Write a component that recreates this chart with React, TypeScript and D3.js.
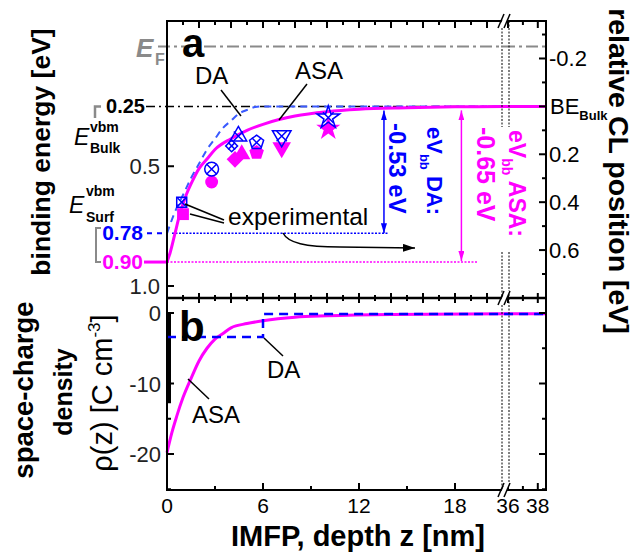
import React from "react";
import * as d3 from "d3";

const FONT = "'Liberation Sans', Arial, Helvetica, sans-serif";
const MAGENTA = "#ff00ff";
const BLUE = "#0000ff";
const DA_BLUE = "#3a5aff";
const GRAY = "#8a8a8a";

// panel a: depth z [nm] vs binding energy of the VBM [eV]
const asaZ = [0, 0.2, 0.5, 0.8, 1.2, 1.6, 2, 2.5, 3, 4, 5, 6, 7, 8, 10, 12, 15, 18, 21, 36, 38.55];
const asaBE = [0.9, 0.86, 0.78, 0.7, 0.62, 0.56, 0.51, 0.47, 0.43, 0.385, 0.35, 0.325, 0.305, 0.29, 0.272, 0.262, 0.256, 0.252, 0.25, 0.25, 0.25];
const daZ = [0, 0.5, 1, 1.5, 2, 2.5, 3, 3.5, 4, 4.5, 5, 5.5, 6, 21, 36, 38.55];
const daBE = [0.78, 0.69, 0.62, 0.55, 0.49, 0.43, 0.385, 0.34, 0.31, 0.28, 0.265, 0.253, 0.25, 0.25, 0.25, 0.25];

// experimental points
const expShapes = ["square", "circle", "diamond", "triangle", "pentagon", "triangleDown", "star"];
const expBlueZ = [0.92, 2.79, 4.04, 4.46, 5.6, 7.17, 10.08];
const expBlueBE = [0.65, 0.512, 0.415, 0.374, 0.401, 0.374, 0.297];
const expPinkZ = [1.0, 2.79, 4.25, 4.67, 5.6, 7.17, 10.08];
const expPinkBE = [0.7, 0.566, 0.471, 0.45, 0.443, 0.422, 0.343];

// levels [eV]
const levelEF = 0;
const levelBulk = 0.25;
const levelDA = 0.78;
const levelASA = 0.9;

// panel b: space-charge density [C cm^-3]
const rhoAsaZ = [0, 0.3, 0.6, 1, 1.5, 2, 2.5, 3, 3.5, 4, 5, 6, 8, 10, 14, 21, 36, 38.55];
const rhoAsa = [-19.8, -17.0, -14.7, -12.0, -9.3, -6.8, -5.0, -3.7, -2.9, -2.1, -1.5, -1.1, -0.6, -0.4, -0.2, -0.1, -0.1, -0.1];
const rhoDaZ = [0, 6, 38.55];
const rhoDa = [-3.4, -0.15, -0.15];

// ticks
const beTicks = [0.5, 1.0];
const relTicks = [-0.3, -0.2, -0.1, 0, 0.1, 0.2, 0.3, 0.4, 0.5, 0.6, 0.7];
const relLabels = ["", "-0.2", "", "", "", "0.2", "", "0.4", "", "0.6", ""];
const rhoTicks = [0, -5, -10, -15, -20, -25];
const rhoLabels = ["0", "", "-10", "", "-20", ""];
const zTicksA = d3.range(0, 22);
const zTicksB = [36, 37, 38];
const zLabels = [0, 6, 12, 18, 36, 38];

const pentagon = {
  draw(ctx: any, size: number) {
    const r = Math.sqrt(size / 2.378);
    for (let i = 0; i < 5; i++) {
      const a = -Math.PI / 2 + (i * 2 * Math.PI) / 5;
      if (i === 0) ctx.moveTo(r * Math.cos(a), r * Math.sin(a));
      else ctx.lineTo(r * Math.cos(a), r * Math.sin(a));
    }
    ctx.closePath();
  },
};

const symType = (s: string): any =>
  s === "circle" ? d3.symbolCircle
    : s === "square" || s === "diamond" ? d3.symbolSquare
    : s === "triangle" || s === "triangleDown" ? d3.symbolTriangle
    : s === "pentagon" ? pentagon
    : d3.symbolStar;
const symRot = (s: string) => (s === "diamond" ? 45 : s === "triangleDown" ? 180 : 0);
const pinkSize: Record<string, number> = { square: 140, circle: 130, diamond: 140, triangle: 130, pentagon: 140, triangleDown: 150, star: 180 };
const blueSize: Record<string, number> = { square: 100, circle: 150, diamond: 70, triangle: 120, pentagon: 130, triangleDown: 150, star: 160 };

export default function App() {
  const xA = d3.scaleLinear().domain([0, 21]).range([167, 503]);
  const xB = d3.scaleLinear().domain([36, 38.55]).range([508, 546]);
  const xs = (z: number) => (z <= 21 ? xA(z) : xB(z));
  const yBE = d3.scaleLinear().domain([0, 1]).range([46.5, 286]);
  const yRho = d3.scaleLinear().domain([0, -20]).range([313, 454]);

  const X0 = xA(0);
  const X1 = xB(38.55);
  const YT = 21;
  const YM = 298;
  const YB = 490;

  const lineBE = d3
    .line<number>()
    .x((_, i) => xs(asaZ[i]))
    .y((d) => yBE(d))
    .curve(d3.curveMonotoneX);
  const lineDA = d3
    .line<number>()
    .x((_, i) => xs(daZ[i]))
    .y((d) => yBE(d))
    .curve(d3.curveMonotoneX);
  const lineRhoAsa = d3
    .line<number>()
    .x((_, i) => xs(rhoAsaZ[i]))
    .y((d) => yRho(d))
    .curve(d3.curveMonotoneX);
  const lineRhoDa = d3
    .line<number>()
    .x((_, i) => xs(rhoDaZ[i]))
    .y((d) => yRho(d))
    .curve(d3.curveStepAfter);

  const breakMark = (y: number) => (
    <g key={"bm" + y}>
      <polygon points={`${499},${y + 7} ${505},${y - 7} ${510},${y - 7} ${504},${y + 7}`} fill="#fff" />
      <line x1={498} y1={y + 7} x2={504} y2={y - 7} stroke="#000" strokeWidth={1.5} />
      <line x1={504} y1={y + 7} x2={510} y2={y - 7} stroke="#000" strokeWidth={1.5} />
    </g>
  );

  const zAll = [...zTicksA, ...zTicksB];

  return (
    <svg width={640} height={556} style={{ position: "absolute", left: 0, top: 0, background: "#fff" }} fontFamily={FONT}>
      <defs>
        <marker id="ahB" viewBox="0 0 10 6" refX={10} refY={3} markerWidth={10} markerHeight={6} markerUnits="userSpaceOnUse" orient="auto-start-reverse">
          <path d="M0,0L10,3L0,6z" fill={BLUE} />
        </marker>
        <marker id="ahM" viewBox="0 0 10 6" refX={10} refY={3} markerWidth={10} markerHeight={6} markerUnits="userSpaceOnUse" orient="auto-start-reverse">
          <path d="M0,0L10,3L0,6z" fill={MAGENTA} />
        </marker>
        <marker id="ahK" viewBox="0 0 12 8" refX={12} refY={4} markerWidth={12} markerHeight={8} markerUnits="userSpaceOnUse" orient="auto">
          <path d="M0,0L12,4L0,8z" fill="#000" />
        </marker>
      </defs>

      {/* ---------- panel a ---------- */}
      {/* E_F and bulk reference lines */}
      <line x1={158} x2={X1} y1={yBE(levelEF)} y2={yBE(levelEF)} stroke={GRAY} strokeWidth={2} strokeDasharray="12,4,3,4" />
      <line x1={146} x2={X1} y1={yBE(levelBulk)} y2={yBE(levelBulk)} stroke="#000" strokeWidth={1.5} strokeDasharray="9,4,2,4" />
      {/* surface levels */}
      <line x1={147} x2={X0} y1={yBE(levelDA)} y2={yBE(levelDA)} stroke={BLUE} strokeWidth={2} strokeDasharray="5,5" />
      <line x1={X0 + 5} x2={xA(13.8)} y1={yBE(levelDA)} y2={yBE(levelDA)} stroke={BLUE} strokeWidth={1.5} strokeDasharray="2,1.5" />
      <line x1={144} x2={X0} y1={yBE(levelASA)} y2={yBE(levelASA)} stroke={MAGENTA} strokeWidth={3} />
      <line x1={X0} x2={xA(19.4)} y1={yBE(levelASA)} y2={yBE(levelASA)} stroke={MAGENTA} strokeWidth={1.5} strokeDasharray="2,1.5" />

      {/* band-bending arrows */}
      <line x1={xA(13.56)} x2={xA(13.56)} y1={yBE(levelBulk) + 4} y2={yBE(levelDA)} stroke={BLUE} strokeWidth={1.5} markerStart="url(#ahB)" markerEnd="url(#ahB)" />
      <line x1={xA(18.4)} x2={xA(18.4)} y1={yBE(levelBulk) + 4} y2={yBE(levelASA) - 1} stroke={MAGENTA} strokeWidth={1.5} markerStart="url(#ahM)" markerEnd="url(#ahM)" />

      {/* curves */}
      <path d={lineDA(daBE) || ""} fill="none" stroke={DA_BLUE} strokeWidth={2} strokeDasharray="7,5" />
      <path d={lineBE(asaBE) || ""} fill="none" stroke={MAGENTA} strokeWidth={3} />

      {/* experimental markers */}
      {expShapes.map((s, i) => (
        <path
          key={"p" + i}
          transform={`translate(${xs(expPinkZ[i])},${yBE(expPinkBE[i])}) rotate(${symRot(s)})`}
          d={d3.symbol().type(symType(s)).size(pinkSize[s])() || ""}
          fill={MAGENTA}
        />
      ))}
      {expShapes.map((s, i) => {
        const c = 0.42 * Math.sqrt(blueSize[s]);
        return (
          <g key={"b" + i} transform={`translate(${xs(expBlueZ[i])},${yBE(expBlueBE[i])})`}>
            <path transform={`rotate(${symRot(s)})`} d={d3.symbol().type(symType(s)).size(blueSize[s])() || ""} fill="none" stroke={BLUE} strokeWidth={1.5} />
            <path d={`M${-c},${-c}L${c},${c}M${-c},${c}L${c},${-c}`} stroke={BLUE} strokeWidth={1.5} />
          </g>
        );
      })}

      {/* annotations panel a */}
      <text x={182} y={57} fontSize={40} fontWeight="bold">a</text>
      <text x={195} y={84} fontSize={24}>DA</text>
      <line x1={221} y1={90} x2={241} y2={116} stroke="#000" strokeWidth={1.5} />
      <text x={295} y={79} fontSize={24}>ASA</text>
      <line x1={307} y1={84} x2={279} y2={120} stroke="#000" strokeWidth={1.5} />
      <text x={228} y={225} fontSize={24.5}>experimental</text>
      <line x1={224} y1={220} x2={185} y2={204} stroke="#000" strokeWidth={1.5} />
      <line x1={224} y1={223} x2={190} y2={214} stroke="#000" strokeWidth={1.5} />
      <path d="M283,233 C288,243 305,247 340,247 L415,248" fill="none" stroke="#000" strokeWidth={1.5} markerEnd="url(#ahK)" />

      <text transform="translate(389,123) rotate(90)" fontSize={24} fontWeight="bold" fill={BLUE}>-0.53 eV</text>
      <text transform="translate(427,127) rotate(90)" fontSize={22} fontWeight="bold" fill={BLUE}>
        eV<tspan fontSize={13} dy={7}>bb</tspan><tspan dy={-7}> DA:</tspan>
      </text>
      <text transform="translate(477,127) rotate(90)" fontSize={25} fontWeight="bold" fill={MAGENTA}>-0.65 eV</text>
      <text transform="translate(509,130) rotate(90)" fontSize={23} fontWeight="bold" fill={MAGENTA}>
        eV<tspan fontSize={14} dy={7}>bb</tspan><tspan dy={-7}> ASA:</tspan>
      </text>

      {/* left-side level labels */}
      <text x={136} y={57} fontSize={26} fontWeight="bold" fontStyle="italic" fill={GRAY}>E</text>
      <text x={155} y={65} fontSize={16} fontWeight="bold" fill={GRAY}>F</text>
      <text x={145} y={yBE(levelBulk) + 7} fontSize={20} fontWeight="bold" textAnchor="end">0.25</text>
      <text x={143} y={yBE(levelDA) + 7} fontSize={21} fontWeight="bold" textAnchor="end" fill={BLUE}>0.78</text>
      <text x={143} y={yBE(levelASA) + 7} fontSize={21} fontWeight="bold" textAnchor="end" fill={MAGENTA}>0.90</text>
      <path d={`M101,${yBE(levelBulk)} H95 V118`} fill="none" stroke={GRAY} strokeWidth={2.5} />
      <path d={`M101,228 H96 V${yBE(levelASA)} H101`} fill="none" stroke={GRAY} strokeWidth={2} />
      <text x={74} y={145} fontSize={23} fontStyle="italic">E</text>
      <text x={90} y={132} fontSize={14} fontWeight="bold">vbm</text>
      <text x={90} y={153} fontSize={14} fontWeight="bold">Bulk</text>
      <text x={69} y={213} fontSize={23} fontStyle="italic">E</text>
      <text x={86} y={196} fontSize={14} fontWeight="bold">vbm</text>
      <text x={86} y={222} fontSize={14} fontWeight="bold">Surf</text>

      {/* left axis ticks/labels panel a */}
      {beTicks.map((t) => (
        <g key={"be" + t}>
          <line x1={X0} x2={X0 + 7} y1={yBE(t)} y2={yBE(t)} stroke="#000" strokeWidth={2} />
          <text x={160} y={yBE(t) + 8} fontSize={22} textAnchor="end" fill="#222">{t.toFixed(1)}</text>
        </g>
      ))}
      {/* right axis ticks/labels panel a (relative CL position) */}
      {relTicks.map((r, i) => {
        const major = i % 2 === 1;
        const y = yBE(r + levelBulk);
        return (
          <g key={"rel" + i}>
            <line x1={X1 - (major ? 7 : 4)} x2={X1} y1={y} y2={y} stroke="#000" strokeWidth={2} />
            {relLabels[i] && (
              <text x={549} y={y + 8} fontSize={22}>{relLabels[i]}</text>
            )}
          </g>
        );
      })}
      <text x={550} y={yBE(levelBulk) + 8} fontSize={22}>
        BE<tspan fontSize={13} fontWeight="bold" dy={6}>Bulk</tspan>
      </text>

      {/* ---------- panel b ---------- */}
      <line x1={X0 + 2} x2={X0 + 2} y1={yRho(0)} y2={yRho(-12.8)} stroke="#000" strokeWidth={4} />
      <path d={lineRhoAsa(rhoAsa) || ""} fill="none" stroke={MAGENTA} strokeWidth={3} />
      <path d={lineRhoDa(rhoDa) || ""} fill="none" stroke={BLUE} strokeWidth={2.5} strokeDasharray="9,6" />
      <text x={179} y={341} fontSize={42} fontWeight="bold">b</text>
      <text x={267} y={378} fontSize={24}>DA</text>
      <line x1={264} y1={338} x2={283} y2={356} stroke="#000" strokeWidth={1.5} />
      <text x={192} y={423} fontSize={24}>ASA</text>
      <line x1={188} y1={379} x2={209} y2={399} stroke="#000" strokeWidth={1.5} />

      {rhoTicks.map((t, i) => {
        const len = t % 10 === 0 ? 7 : 4;
        return (
          <g key={"rho" + t}>
            <line x1={X0} x2={X0 + len} y1={yRho(t)} y2={yRho(t)} stroke="#000" strokeWidth={2} />
            <line x1={X1 - len} x2={X1} y1={yRho(t)} y2={yRho(t)} stroke="#000" strokeWidth={2} />
            {rhoLabels[i] && (
              <text x={161} y={yRho(t) + 8} fontSize={22} textAnchor="end" fill="#222">{rhoLabels[i]}</text>
            )}
          </g>
        );
      })}

      {/* ---------- axis break ---------- */}
      {[502, 509].map((x) => (
        <g key={"bl" + x} stroke="#000" strokeWidth={1} strokeDasharray="2,1.5">
          <line x1={x} x2={x} y1={YT} y2={127} />
          <line x1={x} x2={x} y1={252} y2={YM} />
          <line x1={x} x2={x} y1={YM} y2={YB - 3} />
        </g>
      ))}

      {/* ---------- frames ---------- */}
      <rect x={X0} y={YT} width={X1 - X0} height={YB - YT} fill="none" stroke="#000" strokeWidth={2} />
      <line x1={X0} x2={X1} y1={YM} y2={YM} stroke="#000" strokeWidth={2.5} />

      {zAll.map((z) => {
        const major = z % 2 === 0;
        return (
          <g key={"zt" + z} stroke="#000" strokeWidth={2}>
            <line x1={xs(z)} x2={xs(z)} y1={YT} y2={YT + (major ? 7 : 4)} />
            <line x1={xs(z)} x2={xs(z)} y1={YM - (major ? 5 : 3)} y2={YM + (major ? 5 : 3)} />
            {z % 3 === 0 && z <= 21 && <line x1={xs(z)} x2={xs(z)} y1={YB} y2={YB - (z % 6 === 0 ? 7 : 4)} />}
            {z > 21 && <line x1={xs(z)} x2={xs(z)} y1={YB} y2={YB - (major ? 7 : 4)} />}
          </g>
        );
      })}
      {zLabels.map((z) => (
        <text key={"zl" + z} x={xs(z)} y={513} fontSize={21} textAnchor="middle">{z}</text>
      ))}
      {breakMark(YT)}
      {breakMark(YM)}
      {breakMark(YB)}

      {/* ---------- axis titles ---------- */}
      <text transform="translate(50,152) rotate(-90)" fontSize={26.5} fontWeight="bold" textAnchor="middle">binding energy [eV]</text>
      <text transform="translate(609,171) rotate(90)" fontSize={28.5} fontWeight="bold" textAnchor="middle">relative CL position [eV]</text>
      <text transform="translate(33,390) rotate(-90)" fontSize={27.5} fontWeight="bold" textAnchor="middle">space-charge</text>
      <text transform="translate(72,392) rotate(-90)" fontSize={25} fontWeight="bold" textAnchor="middle">density</text>
      <text transform="translate(112,393) rotate(-90)" fontSize={29} textAnchor="middle">
        ρ(z) [C cm<tspan fontSize={17} dy={-12}>-3</tspan><tspan dy={12}>]</tspan>
      </text>
      <text x={358} y={546} fontSize={29} fontWeight="bold" textAnchor="middle">IMFP, depth z [nm]</text>
    </svg>
  );
}
